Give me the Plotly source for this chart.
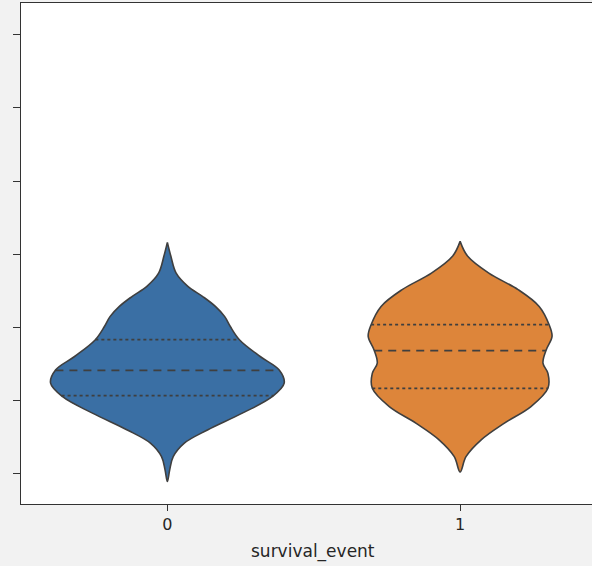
import numpy as np
import plotly.graph_objects as go

# ---- data ----
categories = ["0", "1"]
y_ticks = [0, 20, 40, 60, 80, 100, 120]

# violin 0 density profile: y value and half-width (category units)
v0_y = [63.2, 59.4, 54.8, 51.2, 48.4, 45.7, 42.9, 40.2, 36.6, 32.0, 28.3, 24.7,
        21.0, 16.5, 11.9, 8.3, 4.6, 1.0, -2.2]
v0_hw = [0.0, 0.012, 0.030, 0.070, 0.121, 0.164, 0.196, 0.215, 0.246, 0.317,
         0.382, 0.399, 0.358, 0.256, 0.137, 0.058, 0.020, 0.008, 0.0]
v0_quartiles = [21.3, 28.2, 36.6]

# violin 1 density profile
v1_y = [63.5, 59.4, 54.8, 50.3, 45.7, 40.7, 37.5, 33.8, 30.2, 27.4, 23.3, 18.3,
        13.7, 9.2, 4.6, 0.4]
v1_hw = [0.0, 0.026, 0.098, 0.198, 0.270, 0.304, 0.314, 0.294, 0.283, 0.300,
         0.300, 0.242, 0.150, 0.072, 0.020, 0.0]
v1_quartiles = [23.3, 33.6, 40.7]

colors = ["#3a6fa4", "#dd853a"]
edge = "#3f3f3f"

fig = go.Figure()

profiles = [(v0_y, v0_hw, v0_quartiles), (v1_y, v1_hw, v1_quartiles)]
for i, (ys, hws, qs) in enumerate(profiles):
    ys = np.array(ys, dtype=float)
    hws = np.array(hws, dtype=float)
    order = np.argsort(ys)
    ys_s, hw_s = ys[order], hws[order]
    xs = np.concatenate([i + hw_s, (i - hw_s)[::-1]])
    yy = np.concatenate([ys_s, ys_s[::-1]])
    fig.add_trace(go.Scatter(
        x=xs, y=yy, mode="lines", fill="toself", fillcolor=colors[i],
        line=dict(color=edge, width=1.6, shape="spline", smoothing=1.0),
        showlegend=False, hoverinfo="skip"))
    for k, q in enumerate(qs):
        w = float(np.interp(q, ys_s, hw_s))
        dash = "8px,6px" if k == 1 else "3px,3px"
        fig.add_trace(go.Scatter(
            x=[i - w, i + w], y=[q, q], mode="lines",
            line=dict(color=edge, width=1.8, dash=dash),
            showlegend=False, hoverinfo="skip"))

fig.update_layout(
    width=592, height=566,
    margin=dict(l=21, r=0, t=3, b=62),
    paper_bgcolor="#f2f2f2", plot_bgcolor="white",
    font=dict(family="DejaVu Sans", size=16, color="#262626"),
    annotations=[dict(text="survival_event", xref="paper", yref="paper",
                      x=0.511, y=0, yshift=-47, showarrow=False,
                      xanchor="center", yanchor="middle",
                      font=dict(size=17, color="#262626"))],
)
fig.update_xaxes(
    range=[-0.5, 1.4505], tickvals=[0, 1], ticktext=categories,
    showgrid=False, zeroline=False, showline=True, linecolor="#333333",
    linewidth=1.3, mirror=True, ticks="outside", ticklen=6, tickcolor="#333333",
    tickwidth=1.2, automargin=False, tickfont=dict(size=16))
fig.update_yaxes(
    range=[-8.35, 128.7], tickvals=y_ticks, showticklabels=False,
    showgrid=False, zeroline=False, showline=True, linecolor="#333333",
    linewidth=1.3, mirror=False, ticks="outside", ticklen=7, tickcolor="#333333",
    tickwidth=1.2, automargin=False)

fig.write_html("out.html", config={"displayModeBar": False},
               post_script="document.body.style.margin='0';document.body.style.overflow='hidden';")
